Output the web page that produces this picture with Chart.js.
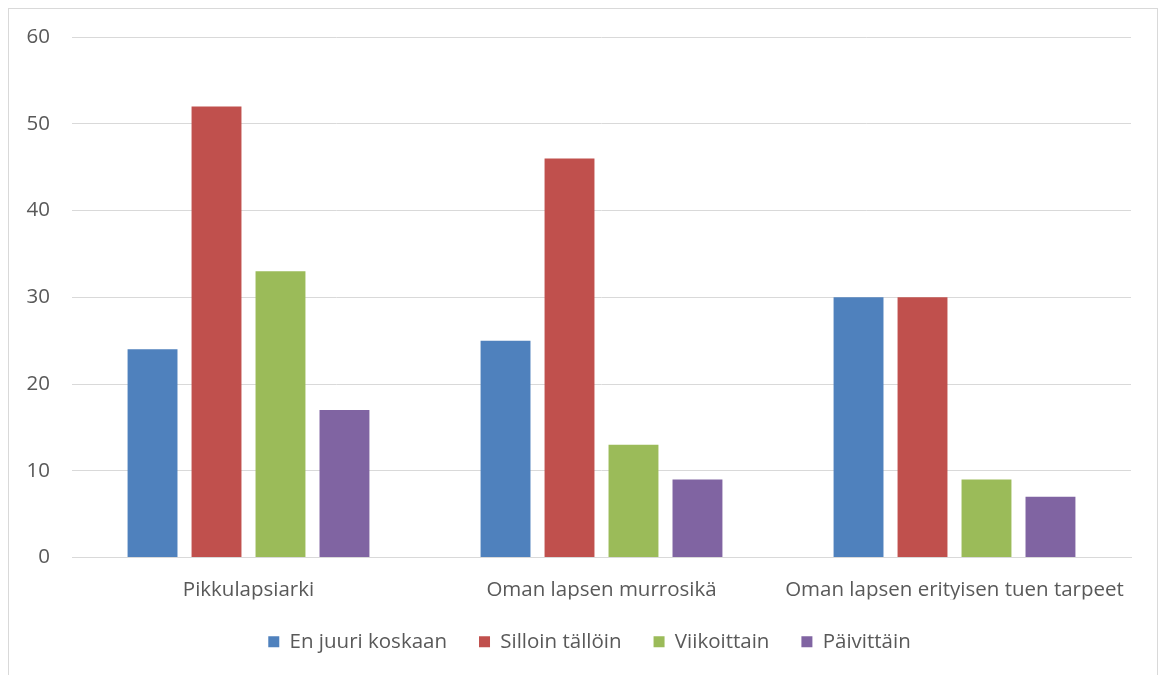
<!DOCTYPE html>
<html>
<head>
<meta charset="utf-8">
<script src="https://cdn.jsdelivr.net/npm/chart.js@4.4.0/dist/chart.umd.min.js"></script>
<style>
  html, body { margin: 0; padding: 0; background: #fff; }
  #frame { position: absolute; left: 8px; top: 8px; width: 1150px; height: 690px; border: 1px solid #d9d9d9; box-sizing: border-box; }
  #wrap { position: absolute; left: 0; top: 0; width: 1160px; height: 675px; }
</style>
</head>
<body>
<div id="frame"></div>
<div id="wrap"><canvas id="c" width="1160" height="675"></canvas></div>
<script>
const categories = ['Pikkulapsiarki', 'Oman lapsen murrosikä', 'Oman lapsen erityisen tuen tarpeet'];
const seriesNames = ['En juuri koskaan', 'Silloin tällöin', 'Viikoittain', 'Päivittäin'];
const enJuuriKoskaan = [24, 25, 30];
const silloinTalloin = [52, 46, 30];
const viikoittain = [33, 13, 9];
const paivittain = [17, 9, 7];
const yTicks = [0, 10, 20, 30, 40, 50, 60];
const colors = ['#4F81BD', '#C0504D', '#9BBB59', '#8064A2'];

const values = [enJuuriKoskaan, silloinTalloin, viikoittain, paivittain];
const FONT = "'Open Sans', 'Liberation Sans', sans-serif";
const FS = 20.5;

const legendShift = {
  id: 'legendShift',
  afterLayout(chart) {
    if (chart.legend) { chart.legend.left += 24; chart.legend.right += 24; }
  }
};

new Chart(document.getElementById('c'), {
  type: 'bar',
  data: {
    labels: categories,
    datasets: seriesNames.map((n, i) => ({
      label: n,
      data: values[i],
      backgroundColor: colors[i],
      borderWidth: 0,
      barPercentage: 0.78,
      categoryPercentage: 0.725
    }))
  },
  plugins: [legendShift],
  options: {
    responsive: false,
    animation: false,
    layout: { padding: { top: 37, right: 29, bottom: 13, left: 0 } },
    plugins: {
      tooltip: { enabled: false },
      legend: {
        position: 'bottom',
        labels: {
          boxWidth: 11, boxHeight: 11, padding: 32,
          color: '#595959',
          font: { family: FONT, size: FS }
        }
      }
    },
    scales: {
      x: {
        afterFit: (s) => { s.height = 42; },
        grid: { display: false, drawTicks: false },
        border: { display: true, color: '#d9d9d9', width: 1 },
        ticks: { color: '#595959', font: { family: FONT, size: FS }, padding: 20, maxRotation: 0 }
      },
      y: {
        min: 0, max: 60,
        afterFit: (s) => { s.width = 72; },
        afterBuildTicks: (s) => { s.ticks = yTicks.map(v => ({ value: v })); },
        grid: { color: '#d9d9d9', lineWidth: 1, drawTicks: false },
        border: { display: false },
        ticks: { color: '#595959', font: { family: FONT, size: FS }, padding: 22 }
      }
    }
  }
});
</script>
</body>
</html>
